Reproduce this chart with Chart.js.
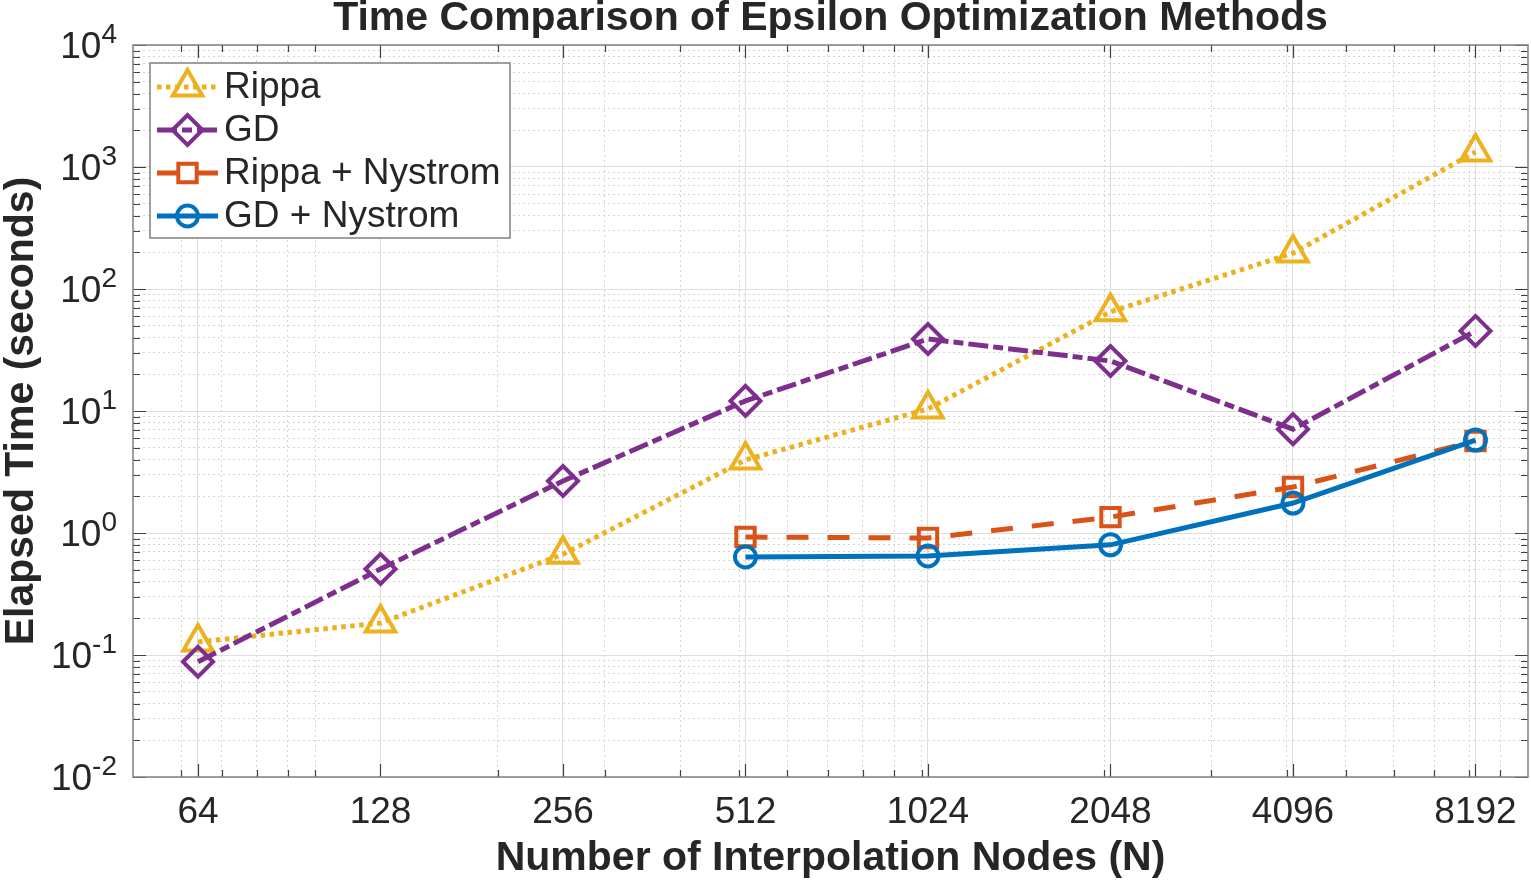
<!DOCTYPE html>
<html lang="en">
<head>
    <meta charset="UTF-8">
    <title>Time Comparison of Epsilon Optimization Methods</title>
    <script src="https://cdn.jsdelivr.net/npm/chart.js@4/dist/chart.umd.min.js"></script>
    <style>
        body {
            margin: 0;
            padding: 0;
            background-color: #fff;
        }
        #contenedor {
            position: relative;
            width: 1531px;
            height: 880px;
        }
    </style>
</head>
<body>
<div id="contenedor">
    <canvas id="graficaTiempos"></canvas>
</div>

<script>
    // Datos (segundos)
    const nodes = [64, 128, 256, 512, 1024, 2048, 4096, 8192];
    const rippa = [0.128, 0.183, 0.67, 3.97, 10.4, 65, 197, 1330];
    const gd = [0.088, 0.507, 2.67, 12.1, 38.9, 25.7, 7.1, 45.3];
    const rippaNystrom = [null, null, null, 0.927, 0.91, 1.35, 2.38, 5.68];
    const gdNystrom = [null, null, null, 0.636, 0.648, 0.80, 1.76, 5.78];

    // Marcas de los ejes
    const xMinorTicks = [60, 70, 80, 90, 100, 200, 300, 400, 500, 600, 700, 800, 900,
        1000, 2000, 3000, 4000, 5000, 6000, 7000, 8000, 9000];
    const yMajorTicks = [0.01, 0.1, 1, 10, 100, 1000, 10000];
    const yMinorTicks = [-2, -1, 0, 1, 2, 3].flatMap(e => [2, 3, 4, 5, 6, 7, 8, 9].map(m => m * Math.pow(10, e)));

    const FONT = 'Arial, "Liberation Sans", Helvetica, sans-serif';
    const TEXTO = '#262626';

    function puntos(valores) {
        return nodes.map((n, i) => ({ x: n, y: valores[i] })).filter(p => p.y !== null);
    }
    function esMayorX(v) {
        return nodes.includes(v);
    }
    function esMayorY(v) {
        return yMajorTicks.some(t => Math.abs(Math.log10(v) - Math.log10(t)) < 1e-6);
    }

    const series = [
        { label: 'Rippa', valores: rippa, color: '#EDB120', dash: [4.5, 4.5], estilo: 'triangle', radio: 17 },
        { label: 'GD', valores: gd, color: '#7E2F8E', dash: [20, 5, 10, 5], estilo: 'rectRot', radio: 15 },
        { label: 'Rippa + Nystrom', valores: rippaNystrom, color: '#D95319', dash: [22, 19], estilo: 'rect', radio: 13 },
        { label: 'GD + Nystrom', valores: gdNystrom, color: '#0072BD', dash: [], estilo: 'circle', radio: 10.5 }
    ];
    const ANCHO_LINEA = 5;
    const ANCHO_MARCA = 4;

    // Título, marco con marcas interiores y etiquetas 10^n
    const ejesMatlab = {
        id: 'ejesMatlab',
        afterDatasetsDraw(chart) {
            const { ctx, chartArea: a, scales: { x, y } } = chart;
            ctx.save();
            ctx.strokeStyle = '#404040';
            ctx.lineWidth = 1.2;
            ctx.beginPath();
            [...nodes, ...xMinorTicks].forEach(v => {
                const px = Math.round(x.getPixelForValue(v)) + 0.5;
                const largo = esMayorX(v) ? 13 : 7;
                ctx.moveTo(px, a.bottom); ctx.lineTo(px, a.bottom - largo);
                ctx.moveTo(px, a.top); ctx.lineTo(px, a.top + largo);
            });
            [...yMajorTicks, ...yMinorTicks].forEach(v => {
                const py = Math.round(y.getPixelForValue(v)) + 0.5;
                const largo = esMayorY(v) ? 13 : 7;
                ctx.moveTo(a.left, py); ctx.lineTo(a.left + largo, py);
                ctx.moveTo(a.right, py); ctx.lineTo(a.right - largo, py);
            });
            ctx.stroke();

            ctx.strokeStyle = '#808080';
            ctx.lineWidth = 1.5;
            ctx.strokeRect(a.left, a.top, a.right - a.left, a.bottom - a.top);

            // etiquetas del eje y con exponente
            ctx.fillStyle = TEXTO;
            ctx.textAlign = 'right';
            ctx.textBaseline = 'alphabetic';
            const borde = a.left - 16;
            yMajorTicks.forEach(v => {
                const py = y.getPixelForValue(v);
                const exp = String(Math.round(Math.log10(v)));
                ctx.font = '28px ' + FONT;
                const anchoExp = ctx.measureText(exp).width;
                ctx.fillText(exp, borde, py - 2);
                ctx.font = '37px ' + FONT;
                ctx.fillText('10', borde - anchoExp, py + 12.5);
            });

            // título
            ctx.font = 'bold 41px ' + FONT;
            ctx.textAlign = 'center';
            ctx.textBaseline = 'middle';
            ctx.fillText('Time Comparison of Epsilon Optimization Methods', (a.left + a.right) / 2, 19);
            ctx.restore();
        }
    };

    // Leyenda estilo MATLAB: línea + marcador
    const leyenda = {
        id: 'leyenda',
        afterDraw(chart) {
            const { ctx } = chart;
            const caja = { x: 150, y: 63, w: 360, h: 175 };
            ctx.save();
            ctx.fillStyle = '#fff';
            ctx.fillRect(caja.x, caja.y, caja.w, caja.h);
            ctx.strokeStyle = '#808080';
            ctx.lineWidth = 1.5;
            ctx.strokeRect(caja.x, caja.y, caja.w, caja.h);
            series.forEach((s, i) => {
                const yy = caja.y + 24 + i * 43;
                ctx.strokeStyle = s.color;
                ctx.lineWidth = ANCHO_LINEA;
                ctx.lineCap = 'butt';
                ctx.setLineDash(s.dash);
                ctx.beginPath();
                ctx.moveTo(157, yy);
                ctx.lineTo(218, yy);
                ctx.stroke();
                ctx.setLineDash([]);
                ctx.lineWidth = ANCHO_MARCA;
                ctx.fillStyle = 'rgba(0,0,0,0)';
                Chart.helpers.drawPoint(ctx, { pointStyle: s.estilo, radius: s.radio, rotation: 0, borderWidth: ANCHO_MARCA }, 187.5, yy);
                ctx.fillStyle = TEXTO;
                ctx.font = '37px ' + FONT;
                ctx.textAlign = 'left';
                ctx.textBaseline = 'middle';
                ctx.fillText(s.label, 224, yy + 1);
            });
            ctx.restore();
        }
    };

    const ctx = document.getElementById('graficaTiempos').getContext('2d');
    new Chart(ctx, {
        type: 'line',
        data: {
            datasets: series.map((s, i) => ({
                label: s.label,
                data: puntos(s.valores),
                order: series.length - i,
                borderColor: s.color,
                borderWidth: ANCHO_LINEA,
                borderDash: s.dash,
                borderCapStyle: 'butt',
                tension: 0,
                fill: false,
                pointStyle: s.estilo,
                pointRadius: s.radio,
                pointHoverRadius: s.radio,
                pointBorderWidth: ANCHO_MARCA,
                pointBorderColor: s.color,
                pointBackgroundColor: 'rgba(0,0,0,0)'
            }))
        },
        options: {
            responsive: true,
            maintainAspectRatio: false,
            animation: false,
            layout: { autoPadding: false, padding: { top: 45, right: 3, left: 0, bottom: 0 } },
            plugins: {
                legend: { display: false },
                tooltip: { enabled: false }
            },
            scales: {
                x: {
                    type: 'logarithmic',
                    min: 50,
                    max: 10000,
                    afterBuildTicks: scale => {
                        scale.ticks = [...nodes, ...xMinorTicks].sort((p, q) => p - q).map(v => ({ value: v }));
                    },
                    afterFit: scale => {
                        scale.height = 103;
                        scale.paddingLeft = 0;
                        scale.paddingRight = 0;
                    },
                    ticks: {
                        autoSkip: false,
                        maxRotation: 0,
                        minRotation: 0,
                        padding: 14,
                        color: TEXTO,
                        font: { family: FONT, size: 37 },
                        callback: v => esMayorX(v) ? String(v) : ''
                    },
                    grid: {
                        drawTicks: false,
                        color: c => esMayorX(c.tick.value) ? '#dedede' : '#d4d4d4',
                        lineWidth: 1
                    },
                    border: {
                        display: false,
                        dash: c => (c.tick && !esMayorX(c.tick.value)) ? [2, 3] : []
                    },
                    title: {
                        display: true,
                        text: 'Number of Interpolation Nodes (N)',
                        color: TEXTO,
                        font: { family: FONT, size: 41, weight: 'bold' },
                        padding: { top: 0, bottom: -3 }
                    }
                },
                y: {
                    type: 'logarithmic',
                    min: 0.01,
                    max: 10000,
                    afterBuildTicks: scale => {
                        scale.ticks = [...yMajorTicks, ...yMinorTicks].sort((p, q) => p - q).map(v => ({ value: v }));
                    },
                    afterFit: scale => {
                        scale.width = 133;
                        scale.paddingTop = 0;
                        scale.paddingBottom = 0;
                    },
                    ticks: { display: false, autoSkip: false },
                    grid: {
                        drawTicks: false,
                        color: c => esMayorY(c.tick.value) ? '#dedede' : '#d4d4d4',
                        lineWidth: 1
                    },
                    border: {
                        display: false,
                        dash: c => (c.tick && !esMayorY(c.tick.value)) ? [2, 3] : []
                    },
                    title: {
                        display: true,
                        text: 'Elapsed Time (seconds)',
                        color: TEXTO,
                        font: { family: FONT, size: 41, weight: 'bold' },
                        padding: { top: -3, bottom: 0 }
                    }
                }
            }
        },
        plugins: [ejesMatlab, leyenda]
    });
</script>
</body>
</html>
